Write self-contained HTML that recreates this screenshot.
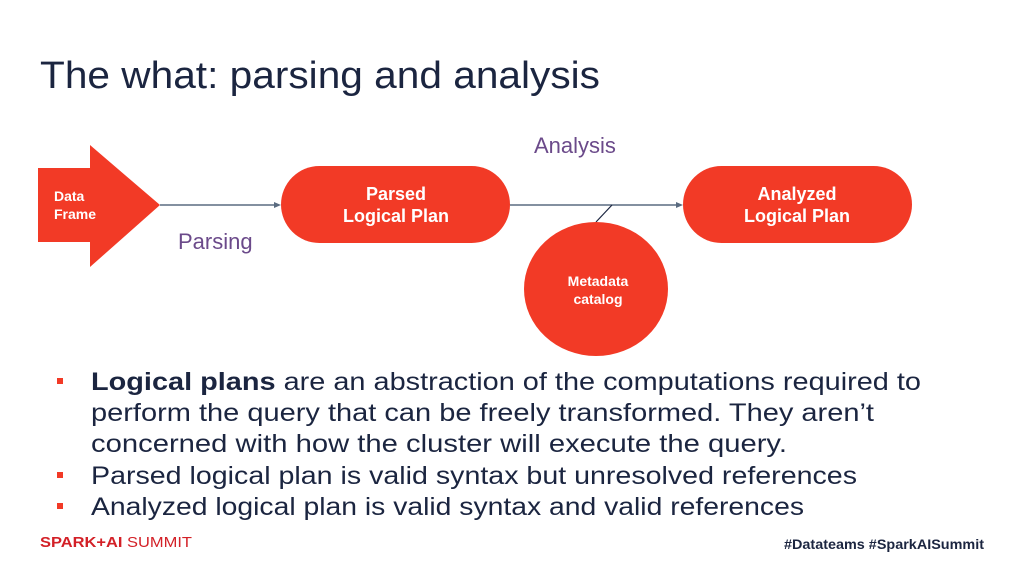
<!DOCTYPE html>
<html><head><meta charset="utf-8"><style>
body{margin:0;width:1024px;height:576px;background:#fff;overflow:hidden}
svg{display:block}
</style></head><body>
<svg width="1024" height="576" viewBox="0 0 1024 576" font-family="Liberation Sans, sans-serif">
<text x="40" y="88" font-size="38" fill="#1b2540" textLength="560" lengthAdjust="spacingAndGlyphs">The what: parsing and analysis</text>
<polygon points="38,168 90,168 90,145 160,205 90,267 90,242 38,242" fill="#f23a26"/>
<text x="54" y="201" font-size="14" font-weight="bold" fill="#fff">Data</text>
<text x="54" y="219" font-size="14" font-weight="bold" fill="#fff">Frame</text>
<line x1="160" y1="205" x2="278" y2="205" stroke="#5a6b80" stroke-width="1.5"/>
<polygon points="281,205 274,202 274,208" fill="#5a6b80"/>
<line x1="510" y1="205" x2="680" y2="205" stroke="#5a6b80" stroke-width="1.5"/>
<polygon points="683,205 676,202 676,208" fill="#5a6b80"/>
<line x1="612" y1="205" x2="596" y2="222" stroke="#1b2540" stroke-width="1.2"/>
<rect x="281" y="166" width="229" height="77" rx="38.5" fill="#f23a26"/>
<text x="396" y="200" font-size="18" font-weight="bold" fill="#fff" text-anchor="middle">Parsed</text>
<text x="396" y="222" font-size="18" font-weight="bold" fill="#fff" text-anchor="middle">Logical Plan</text>
<rect x="683" y="166" width="229" height="77" rx="38.5" fill="#f23a26"/>
<text x="797" y="200" font-size="18" font-weight="bold" fill="#fff" text-anchor="middle">Analyzed</text>
<text x="797" y="222" font-size="18" font-weight="bold" fill="#fff" text-anchor="middle">Logical Plan</text>
<ellipse cx="596" cy="289" rx="72" ry="67" fill="#f23a26"/>
<text x="598" y="286" font-size="14" font-weight="bold" fill="#fff" text-anchor="middle">Metadata</text>
<text x="598" y="304" font-size="14" font-weight="bold" fill="#fff" text-anchor="middle">catalog</text>
<text x="534" y="153" font-size="22" fill="#6b4a8a">Analysis</text>
<text x="178" y="249" font-size="22" fill="#6b4a8a">Parsing</text>
<g fill="#f23a26"><rect x="57" y="378" width="6" height="6"/><rect x="57" y="472" width="6" height="6"/><rect x="57" y="503" width="6" height="6"/></g>
<g font-size="25" fill="#1b2540">
<text x="91" y="390" textLength="830" lengthAdjust="spacingAndGlyphs"><tspan font-weight="bold">Logical plans</tspan> are an abstraction of the computations required to</text>
<text x="91" y="421" textLength="783" lengthAdjust="spacingAndGlyphs">perform the query that can be freely transformed. They aren’t</text>
<text x="91" y="452" textLength="696" lengthAdjust="spacingAndGlyphs">concerned with how the cluster will execute the query.</text>
<text x="91" y="484" textLength="766" lengthAdjust="spacingAndGlyphs">Parsed logical plan is valid syntax but unresolved references</text>
<text x="91" y="515" textLength="713" lengthAdjust="spacingAndGlyphs">Analyzed logical plan is valid syntax and valid references</text>
</g>
<text x="40" y="547" font-size="15" fill="#d32027" textLength="152" lengthAdjust="spacingAndGlyphs"><tspan font-weight="bold">SPARK+AI</tspan> SUMMIT</text>
<text x="984" y="549" font-size="14" font-weight="bold" fill="#1b2540" text-anchor="end" textLength="200" lengthAdjust="spacingAndGlyphs">#Datateams  #SparkAISummit</text>
</svg>
</body></html>
